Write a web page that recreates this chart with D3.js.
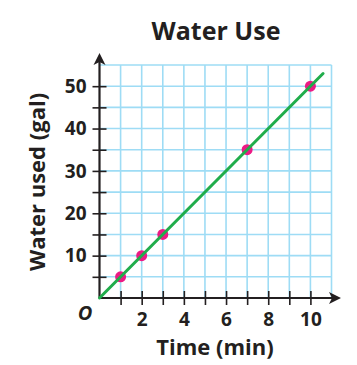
<!DOCTYPE html>
<html><head><meta charset="utf-8">
<script src="https://cdn.jsdelivr.net/npm/d3@7"></script>
<style>
html,body{margin:0;padding:0;background:#fff;}
svg text{font-family:"Open Sans",sans-serif;font-weight:700;fill:#231f20;}
</style></head>
<body><svg id="c" width="357" height="365"></svg>
<script>
const title = "Water Use";
const xLabel = "Time (min)";
const yLabel = "Water used (gal)";
const times = [1, 2, 3, 7, 10];
const gallons = [5, 10, 15, 35, 50];
const lineX = [0, 10.6];
const lineY = [0, 53];
const xTicks = [1,2,3,4,5,6,7,8,9,10];
const xTickLabels = [2,4,6,8,10];
const yTicks = [5,10,15,20,25,30,35,40,45,50];
const yTickLabels = [10,20,30,40,50];

const svg = d3.select("#c");
const x = d3.scaleLinear().domain([0, 11]).range([99.5, 331.5]);
const y = d3.scaleLinear().domain([0, 55]).range([298, 65]);
const ink = "#231f20";
const FONT = "Open Sans";
const W = 800;

// grid
const grid = svg.append("g").attr("stroke", "#9edcf5").attr("stroke-width", 1.6);
grid.selectAll("line.v").data(d3.range(1, 12)).join("line")
  .attr("x1", d => x(d)).attr("x2", d => x(d)).attr("y1", y(0)).attr("y2", y(55));
grid.selectAll("line.h").data(d3.range(5, 60, 5)).join("line")
  .attr("y1", d => y(d)).attr("y2", d => y(d)).attr("x1", x(0)).attr("x2", x(11));

// axes
const xAxis = d3.axisBottom(x).tickValues(xTicks)
  .tickFormat(d => xTickLabels.includes(d) ? d : "").tickSize(7).tickPadding(8);
const gx = svg.append("g").attr("transform", `translate(0,${y(0)})`).call(xAxis);
gx.select(".domain").remove();
gx.selectAll(".tick line").attr("y1", -7).attr("y2", 7).attr("stroke", ink).attr("stroke-width", 1.6);
gx.selectAll(".tick text").attr("font-size", 19).attr("font-family", FONT).attr("font-weight", W).attr("fill", ink);

const yAxis = d3.axisLeft(y).tickValues(yTicks)
  .tickFormat(d => yTickLabels.includes(d) ? d : "").tickSize(7).tickPadding(6);
const gy = svg.append("g").attr("transform", `translate(${x(0)},0)`).call(yAxis);
gy.select(".domain").remove();
gy.selectAll(".tick line").attr("x1", -7).attr("x2", 7).attr("stroke", ink).attr("stroke-width", 1.6);
gy.selectAll(".tick text").attr("font-size", 19).attr("font-family", FONT).attr("font-weight", W).attr("fill", ink);

// axis lines with arrows
svg.append("line").attr("x1", x(0)).attr("x2", 334).attr("y1", y(0)).attr("y2", y(0))
  .attr("stroke", ink).attr("stroke-width", 2.2);
svg.append("path").attr("d", `M341,${y(0)} L329,${y(0)-6} L332,${y(0)} L329,${y(0)+6} Z`).attr("fill", ink);
svg.append("line").attr("x1", x(0)).attr("x2", x(0)).attr("y1", y(0)).attr("y2", 60)
  .attr("stroke", ink).attr("stroke-width", 2.2);
svg.append("path").attr("d", `M${x(0)},53 L${x(0)-6},65 L${x(0)},62 L${x(0)+6},65 Z`).attr("fill", ink);

// points
svg.selectAll("circle.pt").data(times.map((t, i) => [t, gallons[i]])).join("circle")
  .attr("cx", d => x(d[0])).attr("cy", d => y(d[1])).attr("r", 5.5)
  .attr("fill", "#ec1a85");
// line (drawn over the dots, as in the reference)
svg.append("line").attr("x1", x(lineX[0])).attr("y1", y(lineY[0]))
  .attr("x2", x(lineX[1])).attr("y2", y(lineY[1]))
  .attr("stroke", "#20ad4b").attr("stroke-width", 3).attr("stroke-linecap", "round");

// texts
svg.append("text").attr("x", 85).attr("y", 320).attr("text-anchor", "middle")
  .attr("font-size", 20).attr("font-weight", W).attr("font-style", "italic").text("O");
svg.append("text").attr("x", 216).attr("y", 40).attr("text-anchor", "middle")
  .attr("font-size", 25).attr("font-weight", W).text(title);
svg.append("text").attr("x", 215).attr("y", 355).attr("text-anchor", "middle")
  .attr("font-size", 22).attr("font-weight", W).text(xLabel);
svg.append("text").attr("transform", "translate(45,182) rotate(-90)").attr("text-anchor", "middle")
  .attr("font-size", 22).attr("font-weight", W).text(yLabel);
</script></body></html>
